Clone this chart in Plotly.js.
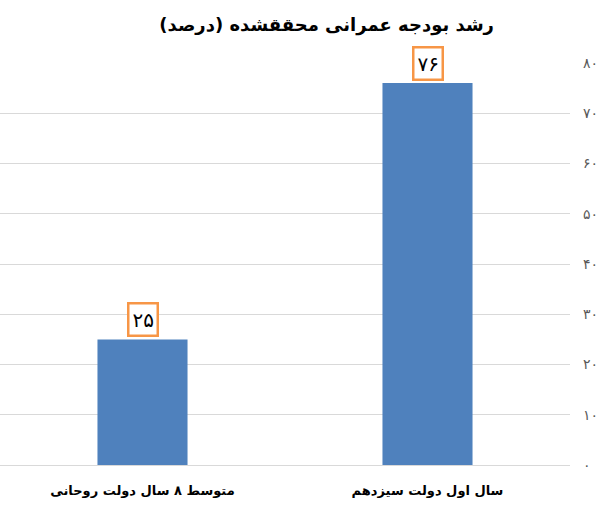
<!DOCTYPE html>
<html>
<head>
<meta charset="utf-8">
<script src="https://cdn.plot.ly/plotly-3.0.1.min.js"></script>
<style>html,body{margin:0;padding:0;background:#fff;}#chart{width:602px;height:506px;}</style>
</head>
<body>
<div id="chart"></div>
<script>
const categories = ["متوسط ۸ سال دولت روحانی", "سال اول دولت سیزدهم"];
const values = [25, 76];
const tickValues = [0, 10, 20, 30, 40, 50, 60, 70, 80];
const chartTitle = "رشد بودجه عمرانی محققشده (درصد)";

function toPersian(n) {
  const d = "۰۱۲۳۴۵۶۷۸۹";
  return String(n).replace(/[0-9]/g, c => d[+c]);
}

const font = "DejaVu Sans, sans-serif";

const trace = {
  type: "bar",
  x: categories,
  y: values,
  marker: {color: "#4F81BD"},
  hoverinfo: "none"
};

const annotations = categories.map((c, i) => ({
  x: c, y: values[i], xref: "x", yref: "y",
  text: toPersian(values[i]),
  showarrow: false,
  yanchor: "bottom",
  yshift: 2,
  font: {family: font, size: 20, color: "#000"},
  bordercolor: "#F79646",
  borderwidth: 2.5,
  borderpad: 3,
  bgcolor: "#fff"
}));

const layout = {
  width: 602, height: 506,
  margin: {l: 0, r: 32, t: 63, b: 41},
  paper_bgcolor: "#fff", plot_bgcolor: "#fff",
  bargap: 0.684,
  showlegend: false,
  title: {
    text: "<b>" + chartTitle + "</b>",
    font: {family: font, size: 18, color: "#000"},
    x: 345/602, xanchor: "center", xref: "paper",
    y: 1 - 25/506, yanchor: "middle", yref: "container"
  },
  xaxis: {
    type: "category",
    tickfont: {family: font, size: 13, color: "#000", weight: "bold"},
    ticks: "", showgrid: false, zeroline: false, showline: false,
    ticklabelstandoff: 16
  },
  yaxis: {
    side: "right",
    range: [0, 80],
    tickvals: tickValues,
    ticktext: tickValues.map(toPersian),
    tickfont: {family: font, size: 14, color: "#595959"},
    showgrid: true, gridcolor: "#D9D9D9", gridwidth: 1,
    zeroline: true, zerolinecolor: "#D9D9D9", zerolinewidth: 1,
    showline: false, ticks: "", ticklabelstandoff: 12
  },
  annotations: annotations
};

Plotly.newPlot("chart", [trace], layout, {displayModeBar: false, staticPlot: true});
</script>
</body>
</html>
